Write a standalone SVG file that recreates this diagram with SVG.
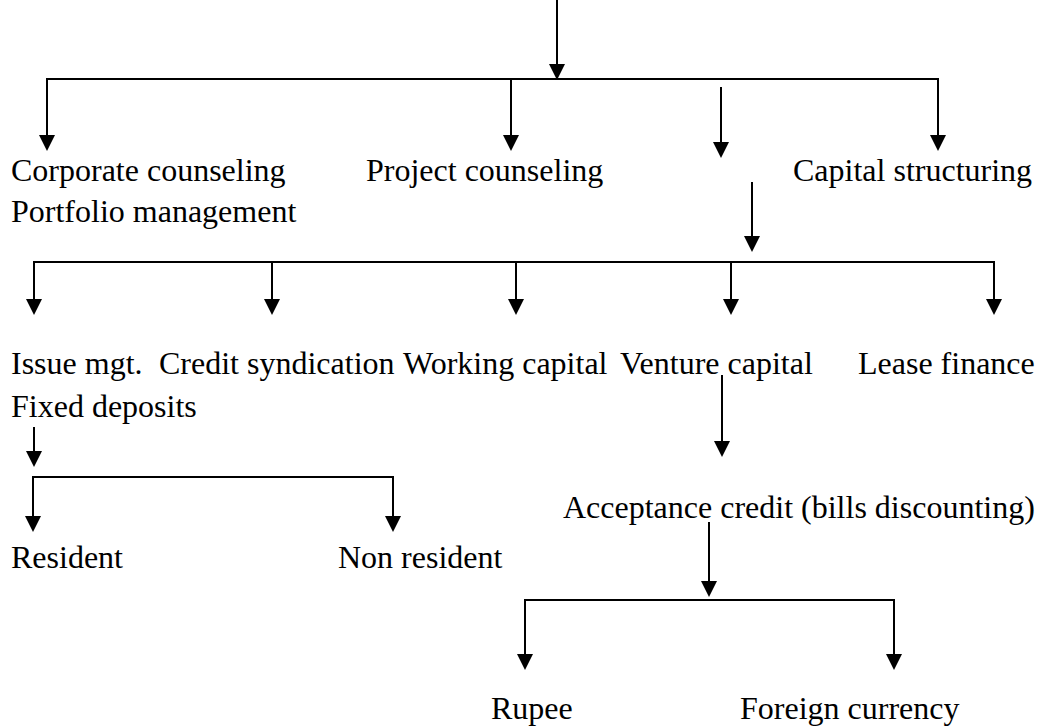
<svg xmlns="http://www.w3.org/2000/svg" width="1039" height="726" viewBox="0 0 1039 726">
<defs>
<marker id="ah" viewBox="0 0 16 16" refX="8" refY="8" markerWidth="16" markerHeight="16" markerUnits="userSpaceOnUse" orient="auto">
<polygon points="0,0 16,8 0,16" fill="#000"/>
</marker>
<style>
.t{font-family:"Liberation Serif","Times New Roman",serif;font-size:32px;fill:#000}
.c{stroke:#000;stroke-width:2;fill:none}
.a{stroke:#000;stroke-width:2;fill:none;marker-end:url(#ah)}
</style>
</defs>
<rect width="1039" height="726" fill="#fff"/>
<g id="connectors">
<line class="a" x1="557" y1="0" x2="557" y2="72"/>
<polyline class="c" points="47,143 47,79 938,79 938,143"/>
<line class="a" x1="47" y1="79" x2="47" y2="143"/>
<line class="a" x1="511" y1="79" x2="511" y2="143"/>
<line class="a" x1="938" y1="79" x2="938" y2="143"/>
<line class="a" x1="721" y1="87" x2="721" y2="150"/>
<line class="a" x1="752" y1="182" x2="752" y2="244"/>
<polyline class="c" points="34,300 34,262 994,262 994,300"/>
<line class="a" x1="34" y1="262" x2="34" y2="307"/>
<line class="a" x1="272" y1="262" x2="272" y2="307"/>
<line class="a" x1="516" y1="262" x2="516" y2="307"/>
<line class="a" x1="731" y1="262" x2="731" y2="307"/>
<line class="a" x1="994" y1="262" x2="994" y2="307"/>
<line class="a" x1="34" y1="427" x2="34" y2="459"/>
<polyline class="c" points="33,520 33,477 393,477 393,520"/>
<line class="a" x1="33" y1="477" x2="33" y2="524"/>
<line class="a" x1="393" y1="477" x2="393" y2="524"/>
<line class="a" x1="722" y1="375" x2="722" y2="449"/>
<line class="a" x1="709" y1="522" x2="709" y2="589"/>
<polyline class="c" points="525,660 525,600 894,600 894,660"/>
<line class="a" x1="525" y1="600" x2="525" y2="662"/>
<line class="a" x1="894" y1="600" x2="894" y2="662"/>
</g>
<g id="corporate-counseling"><text class="t" x="11" y="181">Corporate counseling</text></g>
<g id="portfolio-management"><text class="t" x="11" y="222">Portfolio management</text></g>
<g id="project-counseling"><text class="t" x="366" y="181">Project counseling</text></g>
<g id="capital-structuring"><text class="t" x="793" y="181">Capital structuring</text></g>
<g id="issue-mgt"><text class="t" x="11" y="374">Issue mgt.</text></g>
<g id="credit-syndication"><text class="t" x="159" y="374">Credit syndication</text></g>
<g id="working-capital"><text class="t" x="403" y="374">Working capital</text></g>
<g id="venture-capital"><text class="t" x="620" y="374">Venture capital</text></g>
<g id="lease-finance"><text class="t" x="858" y="374">Lease finance</text></g>
<g id="fixed-deposits"><text class="t" x="11" y="417">Fixed deposits</text></g>
<g id="resident"><text class="t" x="11" y="568">Resident</text></g>
<g id="non-resident"><text class="t" x="338" y="568">Non resident</text></g>
<g id="acceptance-credit"><text class="t" x="563" y="518">Acceptance credit (bills discounting)</text></g>
<g id="rupee"><text class="t" x="491" y="719">Rupee</text></g>
<g id="foreign-currency"><text class="t" x="740" y="719">Foreign currency</text></g>
</svg>
